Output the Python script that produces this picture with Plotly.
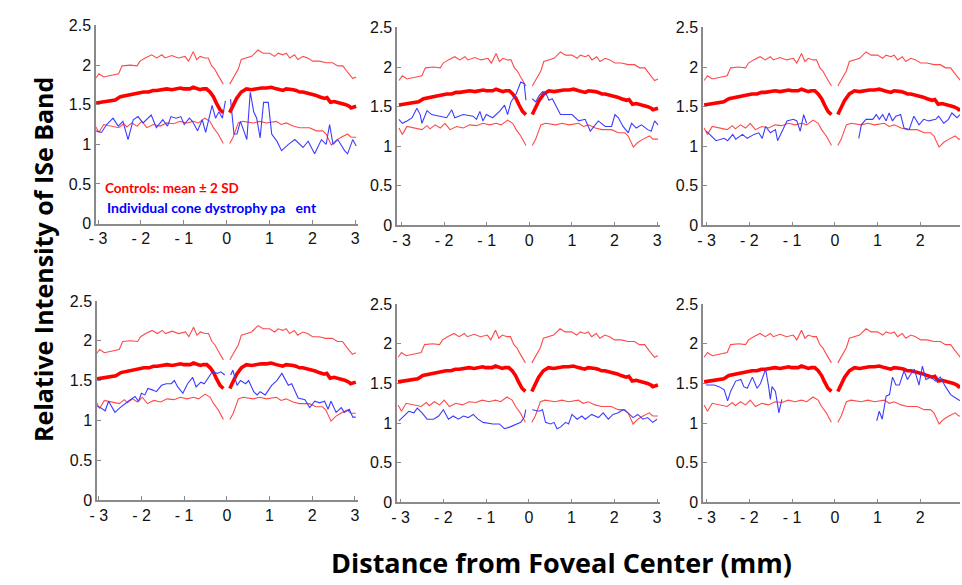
import plotly.graph_objects as go

# ---------------- Control data (same in every panel) ----------------
up_xl = [-3.06,-2.98,-2.87,-2.71,-2.52,-2.44,-2.25,-2.09,-2.02,-1.90,-1.75,-1.63,-1.51,-1.44,-1.28,-1.13,-0.97,-0.89,-0.78,-0.70,-0.62,-0.51,-0.43,-0.35,-0.28,-0.20,-0.12,-0.08]
up_yl = [1.83,1.89,1.85,1.87,1.89,1.99,2.00,1.99,2.05,2.09,2.13,2.09,2.13,2.09,2.12,2.09,2.11,2.05,2.17,2.07,2.11,2.09,2.09,1.99,1.95,1.87,1.79,1.76]
up_xr = [0.07,0.15,0.27,0.34,0.46,0.58,0.73,0.85,1.00,1.12,1.20,1.31,1.39,1.47,1.58,1.66,1.78,1.89,2.01,2.16,2.32,2.47,2.59,2.71,2.82,2.94,3.02]
up_yr = [1.76,1.83,1.95,2.07,2.09,2.11,2.19,2.15,2.15,2.11,2.15,2.13,2.15,2.09,2.13,2.07,2.11,2.09,2.05,2.05,2.03,2.03,1.99,1.99,1.91,1.83,1.85]

mean_xl = [-3.06,-2.95,-2.87,-2.72,-2.60,-2.48,-2.40,-2.29,-2.18,-2.09,-2.00,-1.94,-1.82,-1.72,-1.63,-1.52,-1.40,-1.28,-1.16,-1.08,-1.01,-0.93,-0.86,-0.78,-0.70,-0.62,-0.55,-0.47,-0.39,-0.31,-0.24,-0.16,-0.08]
mean_yl = [1.52,1.53,1.54,1.55,1.56,1.60,1.61,1.62,1.63,1.64,1.65,1.66,1.66,1.68,1.68,1.69,1.70,1.69,1.70,1.71,1.70,1.70,1.70,1.72,1.70,1.69,1.70,1.70,1.66,1.60,1.52,1.44,1.40]
mean_xr = [0.07,0.15,0.23,0.34,0.46,0.58,0.69,0.81,0.93,1.04,1.16,1.24,1.31,1.39,1.47,1.55,1.62,1.70,1.78,1.87,1.97,2.07,2.16,2.28,2.34,2.42,2.51,2.63,2.70,2.78,2.86,2.90,3.02]
mean_yr = [1.40,1.48,1.58,1.66,1.70,1.69,1.70,1.71,1.71,1.72,1.70,1.69,1.68,1.70,1.70,1.69,1.68,1.66,1.66,1.65,1.64,1.62,1.60,1.58,1.59,1.53,1.54,1.52,1.52,1.50,1.48,1.46,1.48]

lo_xl = [-3.06,-2.98,-2.87,-2.71,-2.52,-2.40,-2.33,-2.21,-2.09,-1.98,-1.86,-1.71,-1.55,-1.40,-1.24,-1.09,-0.93,-0.78,-0.66,-0.51,-0.39,-0.31,-0.20,-0.12,-0.08]
lo_yl = [1.23,1.15,1.25,1.23,1.21,1.26,1.22,1.27,1.23,1.29,1.21,1.25,1.23,1.27,1.26,1.29,1.27,1.29,1.27,1.33,1.29,1.21,1.13,1.05,1.01]
lo_xr = [0.07,0.15,0.27,0.38,0.62,0.77,0.93,1.16,1.27,1.39,1.55,1.70,1.93,2.09,2.24,2.32,2.44,2.55,2.67,2.82,2.90,3.02]
lo_yr = [1.01,1.09,1.27,1.29,1.27,1.29,1.27,1.29,1.25,1.27,1.23,1.21,1.21,1.17,1.17,1.13,0.99,1.05,1.09,1.13,1.09,1.09]

# ---------------- Individual patient data (one per panel) ----------------
p1_xl = [-3.05,-2.92,-2.80,-2.65,-2.53,-2.42,-2.30,-2.18,-2.07,-1.95,-1.76,-1.64,-1.49,-1.38,-1.30,-1.18,-1.07,-0.99,-0.87,-0.80,-0.68,-0.57,-0.49,-0.41,-0.34,-0.26,-0.18,-0.10,-0.03]
p1_yl = [1.17,1.15,1.25,1.33,1.23,1.29,1.06,1.31,1.35,1.27,1.37,1.21,1.31,1.23,1.35,1.33,1.35,1.25,1.33,1.29,1.17,1.31,1.15,1.33,1.49,1.33,1.41,1.33,1.55]
p1_xr = [0.09,0.17,0.24,0.32,0.40,0.47,0.55,0.63,0.70,0.78,0.86,0.97,1.05,1.17,1.28,1.44,1.59,1.78,1.90,2.05,2.21,2.32,2.40,2.48,2.59,2.75,2.82,2.94,3.02]
p1_yr = [1.57,1.13,1.13,1.29,1.17,1.06,1.66,1.41,1.33,1.08,1.53,1.53,1.13,1.04,0.92,1.00,1.06,0.96,1.04,0.88,1.06,1.00,1.25,1.00,1.06,0.92,0.88,1.06,0.98]

p2_xl = [-3.06,-2.98,-2.87,-2.75,-2.64,-2.56,-2.52,-2.40,-2.29,-2.09,-1.94,-1.82,-1.75,-1.55,-1.32,-1.24,-1.16,-1.09,-1.01,-0.86,-0.70,-0.58,-0.51,-0.43,-0.31,-0.20,-0.12,-0.08]
p2_yl = [1.34,1.29,1.32,1.36,1.48,1.40,1.29,1.45,1.40,1.38,1.36,1.46,1.36,1.40,1.38,1.34,1.44,1.32,1.40,1.36,1.44,1.52,1.40,1.56,1.66,1.81,1.79,1.58]
p2_xr = [0.07,0.15,0.23,0.31,0.38,0.46,0.54,0.65,0.73,1.00,1.16,1.31,1.43,1.62,1.78,1.93,2.01,2.09,2.20,2.32,2.40,2.51,2.63,2.78,2.86,2.94,3.02]
p2_yr = [1.60,1.56,1.64,1.69,1.68,1.58,1.60,1.48,1.40,1.40,1.32,1.34,1.19,1.32,1.25,1.25,1.40,1.36,1.25,1.17,1.29,1.23,1.27,1.21,1.19,1.32,1.27]

p3_xl = [-3.01,-2.90,-2.78,-2.59,-2.51,-2.39,-2.32,-2.16,-2.05,-1.89,-1.78,-1.70,-1.62,-1.51,-1.39,-1.34,-1.27,-1.12,-0.97,-0.89,-0.81,-0.73,-0.66]
p3_yl = [1.19,1.13,1.07,1.10,1.07,1.15,1.09,1.15,1.10,1.15,1.17,1.10,1.25,1.17,1.21,1.07,1.15,1.32,1.34,1.32,1.19,1.40,1.29]
p3_xr = [0.56,0.62,0.73,0.89,0.97,1.04,1.12,1.20,1.27,1.35,1.43,1.54,1.62,1.74,1.85,1.97,2.08,2.20,2.36,2.43,2.55,2.66,2.74,2.86,2.93]
p3_yr = [1.10,1.27,1.34,1.34,1.40,1.34,1.40,1.32,1.42,1.32,1.38,1.40,1.23,1.21,1.38,1.27,1.34,1.32,1.34,1.38,1.29,1.34,1.42,1.36,1.40]

p4_xl = [-3.05,-2.96,-2.85,-2.77,-2.62,-2.50,-2.31,-2.15,-2.07,-2.00,-1.92,-1.85,-1.73,-1.65,-1.53,-1.42,-1.30,-1.23,-1.15,-1.03,-0.92,-0.80,-0.72,-0.61,-0.53,-0.45,-0.34,-0.22,-0.14,-0.05]
p4_yl = [1.18,1.16,1.12,1.24,1.10,1.16,1.24,1.30,1.24,1.34,1.32,1.40,1.38,1.36,1.44,1.46,1.46,1.50,1.42,1.34,1.46,1.54,1.42,1.48,1.46,1.52,1.61,1.59,1.61,1.57]
p4_xr = [0.09,0.14,0.24,0.32,0.44,0.51,0.63,0.71,0.78,0.90,1.05,1.17,1.29,1.36,1.44,1.52,1.59,1.67,1.83,1.94,2.06,2.17,2.29,2.37,2.44,2.56,2.68,2.75,2.87,2.95,3.02]
p4_yr = [1.57,1.63,1.44,1.50,1.46,1.50,1.36,1.32,1.36,1.32,1.44,1.50,1.59,1.52,1.44,1.46,1.38,1.28,1.26,1.16,1.24,1.22,1.24,1.14,1.24,1.10,1.16,1.10,1.14,1.04,1.04]

p5_xl = [-3.04,-2.92,-2.81,-2.69,-2.61,-2.50,-2.38,-2.23,-2.11,-2.00,-1.88,-1.77,-1.65,-1.53,-1.42,-1.30,-1.19,-1.07,-0.84,-0.69,-0.57,-0.45,-0.30,-0.19,-0.11,-0.07]
p5_yl = [1.03,1.09,1.15,1.13,1.19,1.13,1.05,1.05,1.09,1.17,1.05,1.09,1.05,1.09,1.07,1.11,1.05,1.01,0.99,0.99,0.93,0.95,0.99,1.01,1.07,1.17]
p5_xr = [0.08,0.24,0.32,0.39,0.51,0.59,0.66,0.74,0.86,0.93,1.01,1.13,1.24,1.32,1.47,1.63,1.74,1.86,1.97,2.09,2.21,2.32,2.44,2.55,2.67,2.78,2.90,3.00]
p5_yr = [1.17,1.15,1.17,1.01,0.99,1.01,0.93,0.95,1.01,0.99,1.11,1.05,1.09,1.05,1.11,1.07,1.13,1.05,1.11,1.13,1.17,1.13,1.07,1.11,1.05,1.07,1.01,1.05]

p6_xl = [-3.02,-2.82,-2.71,-2.59,-2.51,-2.44,-2.32,-2.20,-2.13,-2.05,-1.93,-1.82,-1.74,-1.62,-1.55,-1.51,-1.47,-1.39,-1.31,-1.24]
p6_yl = [1.48,1.48,1.46,1.42,1.28,1.40,1.53,1.55,1.46,1.44,1.58,1.44,1.50,1.68,1.46,1.30,1.46,1.40,1.13,1.30]
p6_xr = [0.98,1.04,1.11,1.20,1.28,1.35,1.43,1.51,1.62,1.70,1.78,1.86,1.97,2.05,2.13,2.24,2.36,2.47,2.59,2.71,2.82,2.94]
p6_yr = [1.03,1.15,1.05,1.34,1.36,1.58,1.48,1.48,1.66,1.55,1.62,1.68,1.48,1.72,1.55,1.58,1.53,1.58,1.46,1.36,1.32,1.28]

patients = [
    (p1_xl, p1_yl, p1_xr, p1_yr),
    (p2_xl, p2_yl, p2_xr, p2_yr),
    (p3_xl, p3_yl, p3_xr, p3_yr),
    (p4_xl, p4_yl, p4_xr, p4_yr),
    (p5_xl, p5_yl, p5_xr, p5_yr),
    (p6_xl, p6_yl, p6_xr, p6_yr),
]

x_tickvals = [-3, -2, -1, 0, 1, 2, 3]
x_ticktext = ["- 3", "- 2", "- 1", "0", "1", "2", "3"]
y_tickvals = [0, 0.5, 1, 1.5, 2, 2.5]
y_ticktext = ["0", "0.5", "1", "1.5", "2", "2.5"]

# ---------------- Layout geometry ----------------
W, H = 962, 585
def fx(px):
    return px / W
def fy(py):
    return 1 - py / H

panels = [
    # (x_left_px, x_right_px, y_top_px, y_bottom_px, xrange)
    (89, 354, 18, 222, [-3.046, 3.07]),
    (393.3, 659.3, 20, 224, [-3.1, 3.077]),
    (702.3, 962, 20, 224, [-3.086, 2.93]),
    (90, 354, 301.7, 506.7, [-3.04, 3.08]),
    (393.3, 659.3, 305, 509.3, [-3.08, 3.08]),
    (702.3, 962, 305, 509.3, [-3.086, 2.93]),
]

def join(xl, yl, xr, yr):
    return list(xl) + [None] + list(xr), list(yl) + [None] + list(yr)

fig = go.Figure()
axis_color = "#8a8a8a"
tick_font = dict(family="Arial", size=16, color="#111111")

layout = {}
for i, (xl_px, xr_px, yt_px, yb_px, xr_rng) in enumerate(panels):
    n = i + 1
    xa = "x" if n == 1 else f"x{n}"
    ya = "y" if n == 1 else f"y{n}"
    xkey = "xaxis" if n == 1 else f"xaxis{n}"
    ykey = "yaxis" if n == 1 else f"yaxis{n}"

    ux, uy = join(up_xl, up_yl, up_xr, up_yr)
    mx, my = join(mean_xl, mean_yl, mean_xr, mean_yr)
    lx, ly = join(lo_xl, lo_yl, lo_xr, lo_yr)
    bx, by = join(*patients[i])

    fig.add_trace(go.Scatter(x=ux, y=uy, mode="lines", xaxis=xa, yaxis=ya,
                             line=dict(color="#ff4a4a", width=1.1), showlegend=False, hoverinfo="skip"))
    fig.add_trace(go.Scatter(x=lx, y=ly, mode="lines", xaxis=xa, yaxis=ya,
                             line=dict(color="#ff4a4a", width=1.1), showlegend=False, hoverinfo="skip"))
    fig.add_trace(go.Scatter(x=mx, y=my, mode="lines", xaxis=xa, yaxis=ya,
                             line=dict(color="#ff0000", width=3.6), showlegend=False, hoverinfo="skip"))
    fig.add_trace(go.Scatter(x=bx, y=by, mode="lines", xaxis=xa, yaxis=ya,
                             line=dict(color="#3c3cff", width=1.1), showlegend=False, hoverinfo="skip"))

    layout[xkey] = dict(domain=[fx(xl_px), fx(xr_px)], anchor=ya, range=xr_rng,
                        tickvals=x_tickvals, ticktext=x_ticktext, ticks="inside", ticklen=4,
                        tickcolor=axis_color, showline=True, linecolor=axis_color, linewidth=1.5,
                        showgrid=False, zeroline=False, tickfont=tick_font)
    layout[ykey] = dict(domain=[fy(yb_px), fy(yt_px)], anchor=xa, range=[0, 2.5],
                        tickvals=y_tickvals, ticktext=y_ticktext, ticks="inside", ticklen=4,
                        tickcolor=axis_color, showline=True, linecolor=axis_color, linewidth=1.5,
                        showgrid=False, zeroline=False, tickfont=tick_font)

annotations = [
    dict(text="Controls: mean ± 2 SD", x=fx(96), y=fy(185), xref="paper", yref="paper",
         xanchor="left", yanchor="middle", showarrow=False,
         font=dict(family="Lato, Open Sans, sans-serif", size=13.5, color="#ff0000", weight="bold")),
    dict(text="Individual cone dystrophy pa\u00a0\u00a0\u00a0ent", x=fx(98), y=fy(205), xref="paper", yref="paper",
         xanchor="left", yanchor="middle", showarrow=False,
         font=dict(family="Lato, Open Sans, sans-serif", size=14, color="#0000ff", weight="bold")),
    dict(text="Relative Intensity of ISe Band", x=fx(36), y=fy(259), xref="paper", yref="paper",
         xanchor="center", yanchor="middle", showarrow=False, textangle=-90,
         font=dict(family="Open Sans, Lato, sans-serif", size=25, color="#000000", weight="bold")),
    dict(text="Distance from Foveal Center (mm)", x=fx(559), y=fy(571), xref="paper", yref="paper",
         xanchor="center", yanchor="middle", showarrow=False,
         font=dict(family="Open Sans, Lato, sans-serif", size=27, color="#000000", weight="bold")),
]

fig.update_layout(width=W, height=H, margin=dict(l=0, r=0, t=0, b=0),
                  paper_bgcolor="white", plot_bgcolor="white",
                  annotations=annotations, showlegend=False, **layout)

fig.write_html("out.html")
